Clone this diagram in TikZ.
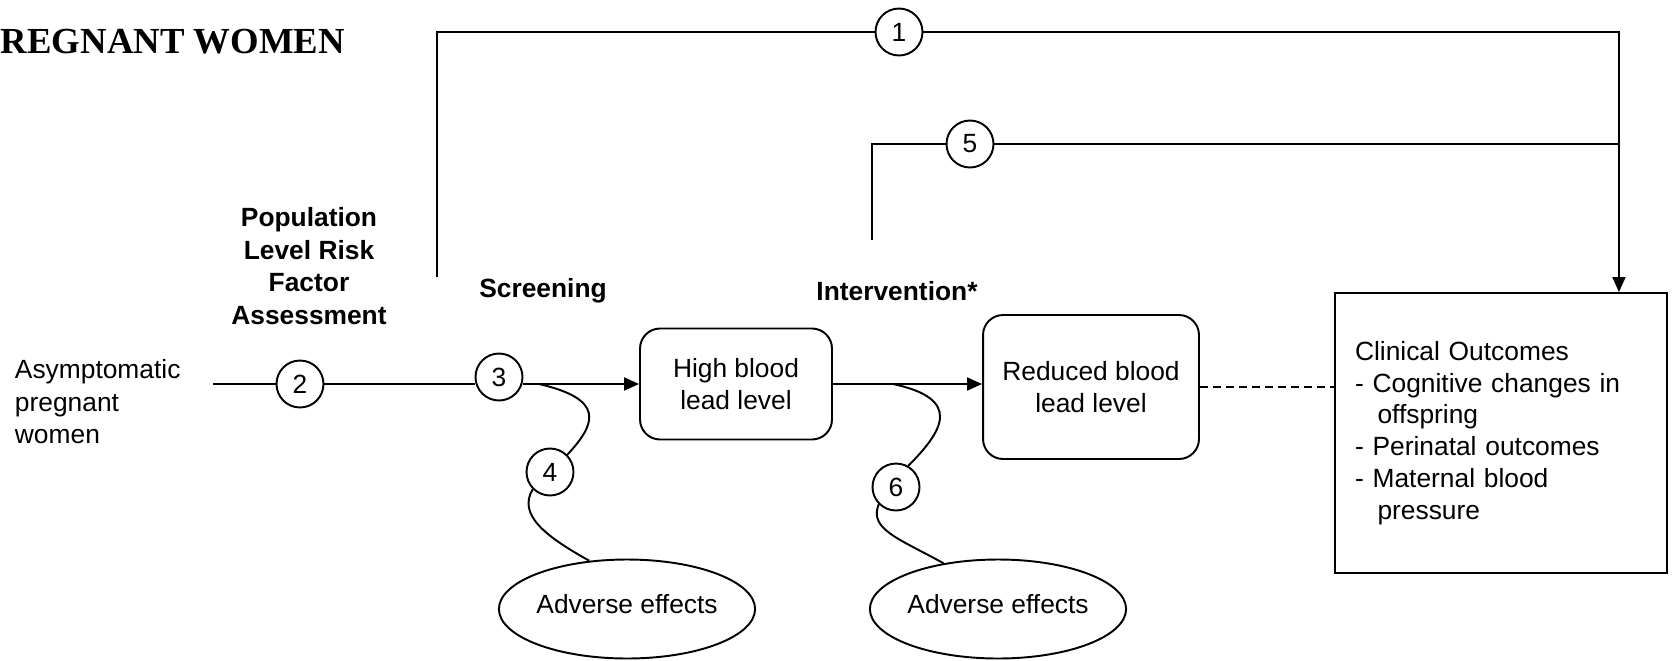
\documentclass[tikz,border=0pt]{standalone}
\usepackage{fontspec}
\setmainfont{Liberation Sans}
\newfontfamily\titlefont{Liberation Serif}
\usetikzlibrary{arrows.meta}
\usetikzlibrary{shapes.geometric}

\begin{document}
\begin{tikzpicture}[x=0.02cm,y=-0.02cm,line width=1.1pt,
  >={Triangle[length=0.3cm,width=0.26cm]},
  every node/.style={font=\fontsize{15}{18.5}\selectfont},
  num/.style={draw,circle,minimum size=0.94cm,inner sep=0pt},
  lvl/.style={draw,rounded corners=0.4cm,align=center,inner sep=0pt},
  adv/.style={draw,ellipse,minimum width=5.12cm,minimum height=1.98cm,inner sep=0pt,text depth=0.2cm},
  hdr/.style={align=center,inner sep=0pt,font=\fontsize{15}{18.5}\selectfont\bfseries}]
\useasboundingbox (0,0) rectangle (1673,660);
\node[anchor=base west,inner sep=0pt,font=\titlefont\bfseries\fontsize{20.9}{24}\selectfont] (title) at (0,53) {REGNANT WOMEN};
\node[anchor=west,align=left,inner sep=0pt] (asym) at (14,402) {Asymptomatic\\pregnant\\women};
\node[hdr] (risk) at (309,266) {Population\\Level Risk\\Factor\\Assessment};
\node[hdr] (scr) at (543,291) {Screening};
\node[hdr] (intv) at (897,291) {Intervention*};
\node[num] (c2) at (300,384) {2};
\node[num] (c3) at (499,377) {3};
\node[lvl,minimum width=3.84cm,minimum height=2.22cm] (high) at (736,384) {High blood\\lead level};
\node[lvl,minimum width=4.32cm,minimum height=2.88cm] (red) at (1091,387) {Reduced blood\\lead level};
\node[draw,align=left,text width=5.84cm,inner xsep=0.4cm,inner ysep=0pt,minimum height=5.6cm,
  font=\fontsize{15}{18.1}\selectfont] (clin) at (1501,433)
  {Clinical Outcomes\\- Cognitive changes in\\\hspace*{0.45cm}offspring\\- Perinatal outcomes\\- Maternal blood\\\hspace*{0.45cm}pressure};
\node[num] (c4) at (550,472) {4};
\node[num] (c6) at (896,487) {6};
\node[adv] (adv1) at (627,609) {Adverse effects};
\node[adv] (adv2) at (998,609) {Adverse effects};
\node[num] (c1) at (899,32) {1};
\node[num] (c5) at (970,144) {5};
\coordinate (src) at (213,384);
\coordinate (rfoot) at (437,277);
\coordinate (ifoot) at (872,240);
\coordinate (s4) at (539,384);
\coordinate (s6) at (893,384);
\coordinate (drop) at ([xshift=-0.98cm]clin.north east);

\draw (src) -- (c2) -- (c2 -| c3.west);
\draw[->] (c3.east |- high.west) -- (high.west);
\draw[->] (high.east) -- (high.east -| red.west);
\draw[dash pattern=on 0.16cm off 0.1cm] (red.east) -- (red.east -| clin.west);
\draw (rfoot) |- (c1.west);
\draw[->] (c1.east) -| (drop);
\draw (ifoot) |- (c5.west);
\draw (c5.east) -- (c5.east -| drop);
\draw (s4) .. controls +(65,15) and +(30,-32) .. (c4.north east);
\draw (c4.225) .. controls +(-15,25) and +(-45,-25) .. (adv1.128);
\draw (s6) .. controls +(70,15) and +(35,-35) .. (c6.60);
\draw (c6.225) .. controls +(-10,25) and +(-45,-25) .. (adv2.140);
\end{tikzpicture}
\end{document}
